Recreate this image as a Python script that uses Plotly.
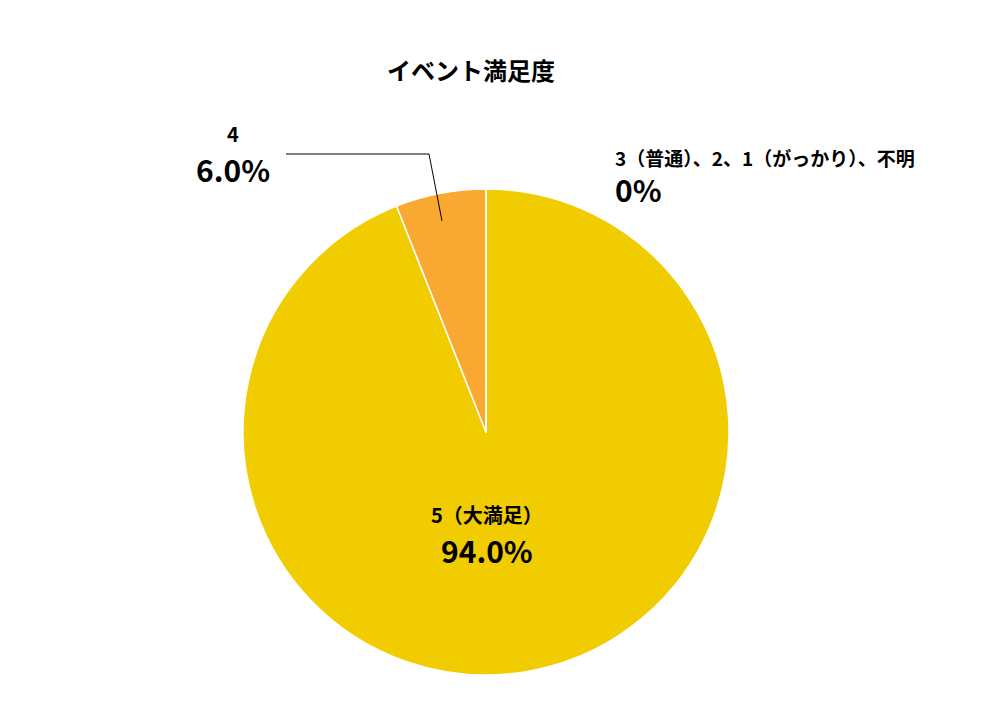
import plotly.graph_objects as go

labels = ["5（大満足）", "4", "3（普通）、2、1（がっかり）、不明"]
values = [94.0, 6.0, 0.0]
colors = ["#F0CC00", "#F9A832", "#E07020"]

W, H = 1000, 726
OX, OY = 7, 7
def px(x): return (x - OX) / W
def py(y): return 1 - (y - OY) / H

fig = go.Figure(go.Pie(
    labels=labels, values=values, sort=False, direction="clockwise", rotation=0,
    marker=dict(colors=colors, line=dict(color="white", width=1.5)),
    textinfo="none", hoverinfo="label+percent", showlegend=False,
    domain=dict(x=[px(242), px(728)], y=[py(674), py(188)]),
))

font = "Noto Sans CJK JP, sans-serif"
def ann(x, y, text, size, anchor="center"):
    fig.add_annotation(x=px(x), y=py(y), xref="paper", yref="paper", text=f"<b>{text}</b>",
                       showarrow=False, xanchor=anchor, yanchor="middle",
                       font=dict(family=font, size=size, color="black"))

ann(470, 68, "イベント満足度", 24)
ann(232, 132, "4", 20)
ann(232, 168, "6.0%", 30)
ann(612, 156, labels[2], 19, "left")
ann(612, 188, "0%", 30, "left")
ann(486, 513, labels[0], 20)
ann(486, 549, "94.0%", 30)

fig.add_shape(type="path", xref="paper", yref="paper",
              path=f"M {px(285)},{py(153)} L {px(428)},{py(153)} L {px(441)},{py(220)}",
              line=dict(color="black", width=1))

fig.update_layout(width=W, height=H, margin=dict(l=0, r=0, t=0, b=0),
                  paper_bgcolor="white", plot_bgcolor="white")
fig.write_html("out.html")
